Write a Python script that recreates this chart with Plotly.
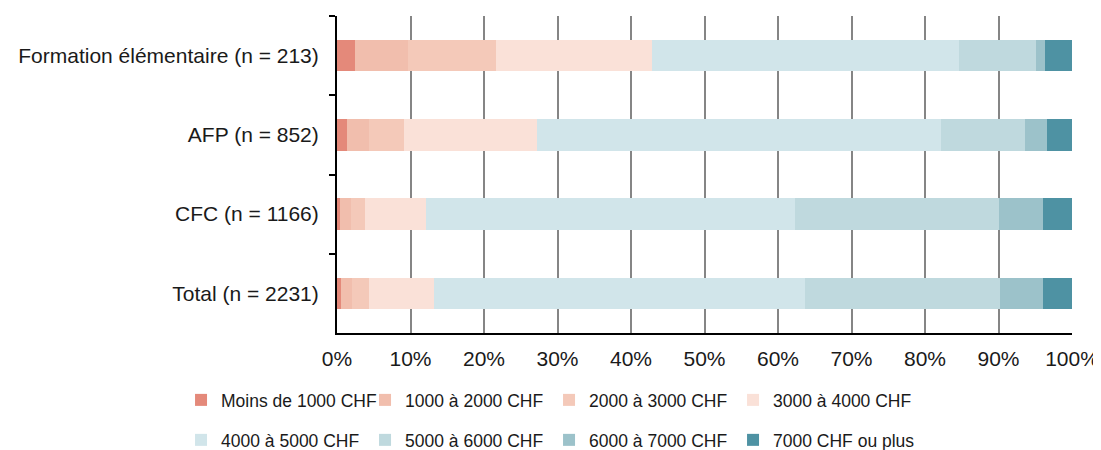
import plotly.graph_objects as go

categories = ["Formation élémentaire (n = 213)", "AFP (n = 852)", "CFC (n = 1166)", "Total (n = 2231)"]
series_names = ["Moins de 1000 CHF", "1000 à 2000 CHF", "2000 à 3000 CHF", "3000 à 4000 CHF",
                "4000 à 5000 CHF", "5000 à 6000 CHF", "6000 à 7000 CHF", "7000 CHF ou plus"]

moins_1000 = [2.4, 1.3, 0.4, 0.5]
s_1000_2000 = [7.3, 3.0, 1.5, 1.5]
s_2000_3000 = [12.0, 4.8, 1.9, 2.3]
s_3000_4000 = [21.1, 18.1, 8.3, 8.9]
s_4000_5000 = [41.8, 55.0, 50.2, 50.5]
s_5000_6000 = [10.5, 11.4, 27.7, 26.5]
s_6000_7000 = [1.2, 3.0, 6.0, 5.8]
s_7000_plus = [3.7, 3.4, 4.0, 4.0]

series_values = [moins_1000, s_1000_2000, s_2000_3000, s_3000_4000,
                 s_4000_5000, s_5000_6000, s_6000_7000, s_7000_plus]
colors = ["#E4897A", "#F1BEAD", "#F4C9B9", "#FAE1D8",
          "#D1E5EA", "#BFD9DE", "#9CC2CA", "#4E92A3"]

x_tick_values = [0, 10, 20, 30, 40, 50, 60, 70, 80, 90, 100]
x_tick_labels = ["0%", "10%", "20%", "30%", "40%", "50%", "60%", "70%", "80%", "90%", "100%"]

fig = go.Figure()
for i, (name, vals, col) in enumerate(zip(series_names, series_values, colors)):
    fig.add_trace(go.Bar(
        y=categories, x=vals, name=name, orientation="h",
        marker=dict(color=col, line=dict(width=0)),
        legend="legend" if i < 4 else "legend2",
        hovertemplate="%{y}<br>" + name + ": %{x}%<extra></extra>",
    ))

FONT = "Liberation Sans, Arial, sans-serif"
TXT = "#1a1a1a"
legend_common = dict(
    orientation="h", xanchor="left", yanchor="middle", x=-0.2122,
    font=dict(family=FONT, size=17.5, color=TXT),
    entrywidth=139, entrywidthmode="pixels", traceorder="normal",
    bgcolor="rgba(0,0,0,0)", borderwidth=0,
)

# the page body has an 8px default margin: figure is sized/margined to compensate
fig.update_layout(
    width=1093, height=442,
    margin=dict(l=329, r=29, t=8, b=117, autoexpand=False),
    barmode="stack", bargap=0.6,
    plot_bgcolor="white", paper_bgcolor="white",
    font=dict(family=FONT, size=21, color=TXT),
    legend=dict(y=-0.2114, **legend_common),
    legend2=dict(y=-0.3375, **legend_common),
    xaxis=dict(
        range=[0, 100], tickmode="array", tickvals=x_tick_values, ticktext=x_tick_labels,
        showgrid=True, gridcolor="#858585", gridwidth=1.5,
        zeroline=False, showline=True, linecolor="black", linewidth=2,
        ticks="", ticklabelstandoff=6, automargin=False,
        tickfont=dict(family=FONT, size=21, color=TXT),
        fixedrange=True,
    ),
    yaxis=dict(
        categoryorder="array", categoryarray=categories, autorange="reversed",
        showline=True, linecolor="black", linewidth=2,
        ticks="outside", ticklen=6, tickwidth=2, tickcolor="black",
        tickson="boundaries", showgrid=False, zeroline=False,
        ticklabelstandoff=12, automargin=False,
        tickfont=dict(family=FONT, size=21, color=TXT),
        fixedrange=True,
    ),
)

fig.write_html("out.html")
